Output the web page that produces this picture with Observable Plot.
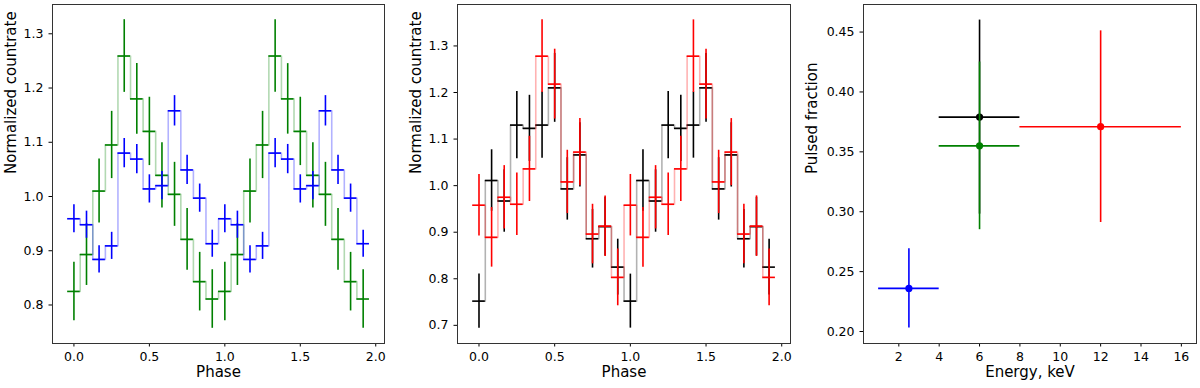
<!DOCTYPE html>
<html><head><meta charset="utf-8">
<script src="https://cdn.jsdelivr.net/npm/d3@7"></script>
<script src="https://cdn.jsdelivr.net/npm/@observablehq/plot@0.6"></script>
<style>
body{margin:0;background:#fff}
#wrap{position:relative;width:1200px;height:388px;overflow:hidden}
#wrap svg{position:absolute;top:0}
</style></head><body><div id="wrap"></div>
<script>
// ---- Data ----
const nBins = 12;            // phase bins per cycle, shown over two cycles
const nCycles = 2;
// Left panel: green & blue light curves
const greenRate = [0.825, 0.893, 1.010, 1.095, 1.259, 1.180, 1.120, 1.039, 1.004, 0.921, 0.843, 0.811];
const greenErr  = [0.054, 0.057, 0.059, 0.062, 0.067, 0.065, 0.063, 0.060, 0.059, 0.057, 0.054, 0.054];
const blueRate  = [0.959, 0.948, 0.884, 0.909, 1.080, 1.069, 1.014, 1.020, 1.158, 1.049, 0.997, 0.913];
const blueErr   = [0.026, 0.025, 0.025, 0.025, 0.027, 0.027, 0.026, 0.026, 0.028, 0.027, 0.026, 0.025];
// Middle panel: black & red light curves
const blackRate = [0.752, 1.011, 0.967, 1.130, 1.123, 1.130, 1.210, 0.993, 1.066, 0.886, 0.912, 0.825];
const blackErr  = [0.058, 0.066, 0.067, 0.072, 0.071, 0.071, 0.074, 0.067, 0.069, 0.063, 0.063, 0.060];
const redRate   = [0.958, 0.889, 0.975, 0.960, 1.036, 1.278, 1.218, 1.008, 1.072, 0.896, 0.913, 0.803];
const redErr    = [0.066, 0.064, 0.068, 0.067, 0.070, 0.078, 0.075, 0.068, 0.072, 0.064, 0.065, 0.061];
// Right panel: pulsed fraction vs energy
const energyMid   = [2.5, 6, 6, 12];
const energyHalf  = [1.5, 2, 2, 4];
const pulsedFrac  = [0.236, 0.379, 0.355, 0.371];
const pulsedErr   = [0.033, 0.081, 0.070, 0.080];
const pfColors    = ["#0000ff", "#000000", "#008000", "#ff0000"];
// Tick labels
const phaseTicks = [0, 0.5, 1.0, 1.5, 2.0];
const leftYTicks = [0.8, 0.9, 1.0, 1.1, 1.2, 1.3];
const midYTicks  = [0.7, 0.8, 0.9, 1.0, 1.1, 1.2, 1.3];
const energyTicks = [2, 4, 6, 8, 10, 12, 14, 16];
const pfTicks = [0.20, 0.25, 0.30, 0.35, 0.40, 0.45];

// ---- Helpers ----
const FONT = "DejaVu Sans";
const halfBin = 1 / (2 * nBins);
function phaseRows(vals, errs) {
  return d3.range(nBins * nCycles).map(i => ({phase: i / nBins, y: vals[i % nBins], e: errs[i % nBins]}));
}
function lcMarks(rows, color) {
  return [
    Plot.line(rows, {x: "phase", y: "y", curve: "step", stroke: color, strokeOpacity: 0.3, strokeWidth: 1.6}),
    Plot.ruleX(rows, {x: "phase", y1: d => d.y - d.e, y2: d => d.y + d.e, stroke: color, strokeWidth: 1.6}),
    Plot.ruleY(rows, {y: "y", x1: d => d.phase - halfBin, x2: d => d.phase + halfBin, stroke: color, strokeWidth: 1.6})
  ];
}
function axes(xt, xf, yt, yf, xlabel, ylabel, ylabelDx) {
  return [
    Plot.axisX({ticks: xt, tickFormat: xf, tickSize: 3.5, tickPadding: 5, fontSize: 12.5, label: null}),
    Plot.axisY({ticks: yt, tickFormat: yf, tickSize: 3.5, tickPadding: 5.5, fontSize: 12.5, label: null}),
    Plot.text([xlabel], {text: d => d, frameAnchor: "bottom", dy: 33, fontSize: 15, fill: "black"}),
    Plot.text([ylabel], {text: d => d, frameAnchor: "left", dx: ylabelDx, rotate: -90, fontSize: 15, fill: "black"}),
    Plot.frame({stroke: "#333", strokeWidth: 1})
  ];
}
function place(svg, left) { svg.style.left = left + "px"; document.getElementById("wrap").appendChild(svg); }

// ---- Left panel ----
place(Plot.plot({
  width: 400, height: 388, marginLeft: 52, marginRight: 16, marginTop: 4, marginBottom: 45,
  style: {fontFamily: FONT, background: "white", overflow: "visible"},
  x: {domain: [-0.142, 2.058]},
  y: {domain: [0.729, 1.354]},
  marks: [
    ...lcMarks(phaseRows(greenRate, greenErr), "#008000"),
    ...lcMarks(phaseRows(blueRate, blueErr), "#0000ff"),
    ...axes(phaseTicks, d3.format(".1f"), leftYTicks, d3.format(".1f"), "Phase", "Normalized countrate", -41)
  ]
}), 0);

// ---- Middle panel ----
place(Plot.plot({
  width: 400, height: 388, marginLeft: 57, marginRight: 10, marginTop: 4, marginBottom: 45,
  style: {fontFamily: FONT, background: "transparent", overflow: "visible"},
  x: {domain: [-0.142, 2.058]},
  y: {domain: [0.661, 1.389]},
  marks: [
    ...lcMarks(phaseRows(blackRate, blackErr), "#000000"),
    ...lcMarks(phaseRows(redRate, redErr), "#ff0000"),
    ...axes(phaseTicks, d3.format(".1f"), midYTicks, d3.format(".1f"), "Phase", "Normalized countrate", -41)
  ]
}), 400);

// ---- Right panel ----
const pfRows = energyMid.map((e, i) => ({e, w: energyHalf[i], p: pulsedFrac[i], err: pulsedErr[i], c: pfColors[i]}));
place(Plot.plot({
  width: 400, height: 388, marginLeft: 63, marginRight: 4, marginTop: 4, marginBottom: 45,
  style: {fontFamily: FONT, background: "transparent", overflow: "visible"},
  x: {domain: [0.25, 16.75]},
  y: {domain: [0.19, 0.473]},
  marks: pfRows.flatMap(r => [
    Plot.ruleX([r], {x: "e", y1: d => d.p - d.err, y2: d => d.p + d.err, stroke: r.c, strokeWidth: 1.6}),
    Plot.ruleY([r], {y: "p", x1: d => d.e - d.w, x2: d => d.e + d.w, stroke: r.c, strokeWidth: 1.6}),
    Plot.dot([r], {x: "e", y: "p", r: 3.6, fill: r.c, stroke: "none"})
  ]).concat(axes(energyTicks, d3.format("d"), pfTicks, d3.format(".2f"), "Energy, keV", "Pulsed fraction", -51))
}), 800);
</script></body></html>
